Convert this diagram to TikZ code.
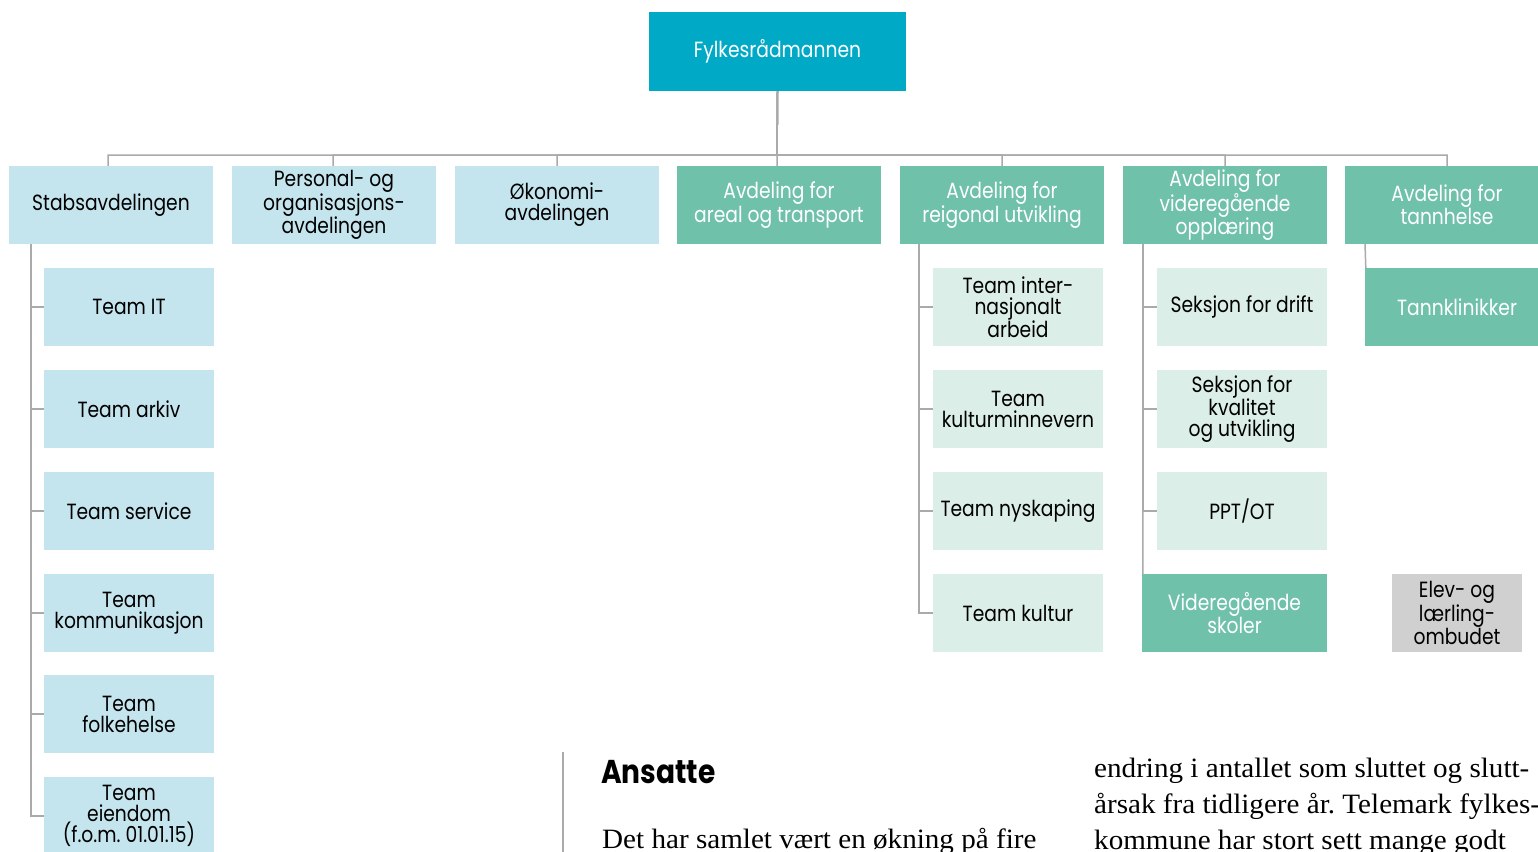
\documentclass[tikz,border=0pt]{standalone}
\usepackage{fontspec}
\setmainfont{Poppins}[FakeStretch=0.85]
\newfontfamily\bodyserif{Liberation Serif}[FakeStretch=1.04]
\newfontfamily\headsans{Poppins}[FakeStretch=0.85]
\frenchspacing
\begin{document}
\begin{tikzpicture}[x=1pt,y=-1pt,
  every node/.style={inner sep=0pt, align=center, font=\fontsize{22}{21}\selectfont},
  topbox/.style={fill=topcyan, text=white, minimum width=257pt, minimum height=79pt},
  deptblue/.style={fill=lightblue, text=black, minimum width=204pt, minimum height=78pt},
  deptgreen/.style={fill=midgreen, text=white, minimum width=204pt, minimum height=78pt},
  subblue/.style={fill=lightblue, text=black, minimum width=170pt, minimum height=78pt},
  subgreen/.style={fill=palegreen, text=black, minimum width=170pt, minimum height=78pt},
  unitgreen/.style={fill=midgreen, text=white, minimum width=185pt, minimum height=78pt},
  greybox/.style={fill=boxgrey, text=black, minimum width=130pt, minimum height=78pt},
  conn/.style={draw=linegrey, line width=1.5pt},
  bodytext/.style={anchor=base west, font=\bodyserif\fontsize{28}{28}\selectfont}
]
\definecolor{topcyan}{RGB}{0,169,198}
\definecolor{lightblue}{RGB}{197,229,238}
\definecolor{midgreen}{RGB}{111,193,170}
\definecolor{palegreen}{RGB}{220,238,232}
\definecolor{boxgrey}{RGB}{208,208,208}
\definecolor{linegrey}{RGB}{170,170,170}
\useasboundingbox (0,0) rectangle (1538,851);
\fill[white] (0,0) rectangle (1538,851);

% top
\node[topbox] (top) at (777.5,51.5) {Fylkesrådmannen};

% level 1
\node[deptblue] (stabs) at (111,205) {Stabsavdelingen};
\node[deptblue] (pers) at (334,205) {Personal- og\\organisasjons-\\avdelingen};
\node[deptblue] (okon) at (557,205) {Økonomi-\\avdelingen};
\node[deptgreen] (areal) at (779,205) {Avdeling for\\areal og transport};
\node[deptgreen] (regn) at (1002,205) {Avdeling for\\reigonal utvikling};
\node[deptgreen] (vgo) at (1225,205) {Avdeling for\\videregående\\opplæring};
\node[deptgreen] (tann) at (1447,205) {Avdeling for\\tannhelse};

\coordinate (bus) at (777,155);
\foreach \n/\dx in {stabs/-3,pers/-1,okon/0,areal/-2,regn/0,vgo/0,tann/0}{
  \draw[conn] (top.south) -- (bus) -| ([xshift=\dx pt]\n.north);
}

% Stabs children
\node[subblue] (s1) at (129,307) {Team IT};
\node[subblue] (s2) at (129,409) {Team arkiv};
\node[subblue] (s3) at (129,511) {Team service};
\node[subblue] (s4) at (129,613) {Team\\kommunikasjon};
\node[subblue] (s5) at (129,714) {Team\\folkehelse};
\node[subblue] (s6) at (129,816) {Team\\eiendom\\(f.o.m. 01.01.15)};
\foreach \c in {s1,s2,s3,s4,s5,s6}{
  \draw[conn] ([xshift=-80pt]stabs.south) |- (\c.west);
}

% Regional children
\node[subgreen] (r1) at (1018,307) {Team inter-\\nasjonalt\\arbeid};
\node[subgreen] (r2) at (1018,409) {Team\\kulturminnevern};
\node[subgreen] (r3) at (1018,511) {Team nyskaping};
\node[subgreen] (r4) at (1018,613) {Team kultur};
\foreach \c in {r1,r2,r3,r4}{
  \draw[conn] ([xshift=-83pt]regn.south) |- (\c.west);
}

% VGO children
\node[subgreen] (v1) at (1242,307) {Seksjon for drift};
\node[subgreen] (v2) at (1242,409) {Seksjon for\\kvalitet\\og utvikling};
\node[subgreen] (v3) at (1242,511) {PPT/OT};
\node[unitgreen] (v4) at (1234.5,613) {Videregående\\skoler};
\foreach \c in {v1,v2,v3}{
  \draw[conn] ([xshift=-82pt]vgo.south) |- (\c.west);
}
\draw[conn] ([xshift=-82pt]vgo.south) -- ([xshift=1pt]v4.north west);

% Tannhelse
\node[unitgreen, minimum width=184pt] (tk) at (1457,307) {Tannklinikker};
\draw[conn] ([xshift=-82pt]tann.south) -- ([xshift=1pt]tk.north west);

% Ombud
\node[greybox] (omb) at (1457,613) {Elev- og\\lærling-\\ombudet};

% text below
\coordinate (rulea) at (563,752);
\coordinate (ruleb) at (563,860);
\draw[draw=linegrey, line width=1.2pt] (rulea) -- (ruleb);
\node[anchor=base west, font=\headsans\bfseries\fontsize{33}{33}\selectfont] (ansatte) at (601,783) {Ansatte};
\node[bodytext] (p1) at (602,848) {Det har samlet vært en økning på fire};
\node[bodytext] (q1) at (1094,777) {endring i antallet som sluttet og slutt-};
\node[bodytext] (q2) at (1094,813) {årsak fra tidligere år. Telemark fylkes-};
\node[bodytext] (q3) at (1094,849) {kommune har stort sett mange godt};
\end{tikzpicture}
\end{document}
